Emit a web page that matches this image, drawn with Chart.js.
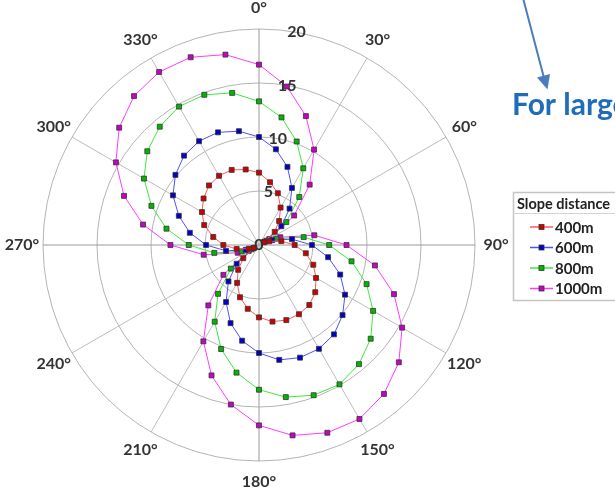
<!DOCTYPE html>
<html>
<head>
<meta charset="utf-8">
<script src="https://cdn.jsdelivr.net/npm/chart.js@4.4.0/dist/chart.umd.min.js"></script>
<style>
  html, body { margin: 0; padding: 0; background: #fff; overflow: hidden; }
</style>
</head>
<body>
<canvas id="polarChart" width="615" height="489"></canvas>
<script>
// direction in degrees, clockwise from north
const angles = [0, 10, 20, 30, 40, 50, 60, 70, 80, 90, 100, 110, 120, 130, 140, 150, 160, 170,
                180, 190, 200, 210, 220, 230, 240, 250, 260, 270, 280, 290, 300, 310, 320, 330, 340, 350];
const angleTicks = [0, 30, 60, 90, 120, 150, 180, 210, 240, 270, 300, 330];
const radiusTicks = [0, 5, 10, 15, 20];

const seriesNames = ['400m', '600m', '800m', '1000m'];
const d400 = [6.7, 5.9, 5.1, 4.0, 2.9, 1.9, 0.5, 1.0, 2.1, 3.3, 4.4, 5.35, 6.1, 6.8, 7.25, 7.4, 7.4, 7.2,
              6.7, 6.0, 5.15, 4.05, 3.0, 1.9, 0.5, 1.0, 2.1, 3.3, 4.3, 5.4, 6.1, 6.7, 7.2, 7.4, 7.4, 7.1];
const d600 = [10.0, 9.0, 7.7, 6.1, 4.4, 2.7, 0.6, 1.3, 3.1, 4.9, 6.5, 8.0, 9.2, 10.1, 10.8, 11.1, 11.1, 10.8,
              10.0, 9.0, 7.7, 6.1, 4.4, 2.7, 0.6, 1.3, 3.1, 4.9, 6.5, 7.9, 9.2, 10.1, 10.8, 11.1, 11.1, 10.7];
const d800 = [13.3, 12.0, 10.2, 8.2, 5.8, 3.3, 0.8, 1.7, 4.2, 6.5, 8.7, 10.6, 12.2, 13.5, 14.4, 14.9, 14.8, 14.3,
              13.4, 12.0, 10.25, 8.2, 5.9, 3.4, 0.8, 1.7, 4.2, 6.5, 8.7, 10.6, 12.3, 13.5, 14.3, 14.8, 14.8, 14.3];
const d1000 = [16.7, 14.9, 12.7, 10.2, 7.3, 4.25, 1.1, 2.1, 5.2, 8.1, 10.9, 13.3, 15.3, 16.9, 18.0, 18.6, 18.5, 17.9,
               16.7, 15.0, 12.85, 10.3, 7.3, 4.3, 1.1, 2.1, 5.2, 8.2, 10.9, 13.3, 15.3, 16.9, 18.0, 18.5, 18.5, 17.9];

const lineColors = ['#ff5a5a', '#5050ff', '#3ee83e', '#ff3cff'];
const markColors = ['#d00000', '#0000cc', '#00b800', '#c800c8'];
const seriesData = [d400, d600, d800, d1000];

const FONT = 'Lato, "Open Sans", sans-serif';

// tick labels, compass labels, legend box and the note at the top right
const polarDecor = {
    id: 'polarDecor',
    afterDraw(chart) {
        const ctx = chart.ctx;
        const scale = chart.scales.r;
        ctx.save();
        ctx.fillStyle = '#333';
        ctx.textAlign = 'center';
        ctx.textBaseline = 'middle';

        ctx.font = 'bold 16px ' + FONT;
        const ray = 10 * Math.PI / 180;
        radiusTicks.forEach(v => {
            const d = scale.getDistanceFromCenterForValue(v);
            ctx.fillText(String(v), scale.xCenter + d * Math.sin(ray), scale.yCenter - d * Math.cos(ray));
        });

        ctx.font = 'bold 16px ' + FONT;
        angleTicks.forEach(a => {
            const p = scale.getPointPosition(angles.indexOf(a), scale.drawingArea + 21);
            ctx.fillText(a + '°', p.x, p.y);
        });

        // legend
        ctx.strokeStyle = '#c4c4c4';
        ctx.lineWidth = 1.5;
        ctx.strokeRect(513.5, 192.5, 130, 108);
        ctx.beginPath();
        ctx.moveTo(513, 213.5);
        ctx.lineTo(615, 213.5);
        ctx.lineWidth = 1;
        ctx.strokeStyle = '#d4d4d4';
        ctx.stroke();

        ctx.textAlign = 'left';
        ctx.fillStyle = '#222';
        ctx.font = 'bold 14.5px ' + FONT;
        ctx.fillText('Slope distance', 517, 204);
        ctx.font = 'bold 15px ' + FONT;
        seriesNames.forEach((name, i) => {
            const y = 227 + i * 20.5;
            ctx.strokeStyle = lineColors[i];
            ctx.lineWidth = 1.5;
            ctx.beginPath();
            ctx.moveTo(530, y);
            ctx.lineTo(553, y);
            ctx.stroke();
            ctx.fillStyle = markColors[i];
            ctx.fillRect(539, y - 2.5, 5, 5);
            ctx.strokeStyle = '#333';
            ctx.lineWidth = 0.8;
            ctx.strokeRect(539, y - 2.5, 5, 5);
            ctx.fillStyle = '#222';
            ctx.fillText(name, 555, y + 1);
        });

        // arrow and note
        ctx.strokeStyle = '#4a7ebb';
        ctx.fillStyle = '#4a7ebb';
        ctx.lineWidth = 2;
        ctx.beginPath();
        ctx.moveTo(523, -2);
        ctx.lineTo(543.5, 76);
        ctx.stroke();
        ctx.beginPath();
        ctx.moveTo(547.5, 89.5);
        ctx.lineTo(537, 77.5);
        ctx.lineTo(550, 74);
        ctx.closePath();
        ctx.fill();

        ctx.fillStyle = '#1f6db8';
        ctx.font = 'bold 30px ' + FONT;
        ctx.textBaseline = 'alphabetic';
        ctx.fillText('For large', 512, 115);
        ctx.restore();
    }
};

new Chart('polarChart', {
    type: 'radar',
    data: {
        labels: angles.map(a => a + '°'),
        datasets: seriesData.map((vals, i) => ({
            label: seriesNames[i],
            data: vals,
            borderColor: lineColors[i],
            borderWidth: 1,
            fill: false,
            tension: 0,
            pointStyle: 'rect',
            pointRadius: 3.5,
            pointBackgroundColor: markColors[i],
            pointBorderColor: '#333',
            pointBorderWidth: 0.8
        }))
    },
    options: {
        responsive: false,
        animation: false,
        layout: {
            padding: { left: 43, top: 29, right: 140, bottom: 28 }
        },
        plugins: {
            legend: { display: false },
            tooltip: { enabled: false }
        },
        scales: {
            r: {
                min: 0,
                max: 20,
                ticks: { display: false, stepSize: 5 },
                pointLabels: { display: false },
                grid: { circular: true, color: '#b4b4b4', lineWidth: 1 },
                angleLines: {
                    color: ctx => (ctx.index % 9 === 0 ? '#9a9a9a' : '#bdbdbd'),
                    lineWidth: ctx => (ctx.index % 3 === 0 ? 1 : 0)
                }
            }
        }
    },
    plugins: [polarDecor]
});
</script>
</body>
</html>
